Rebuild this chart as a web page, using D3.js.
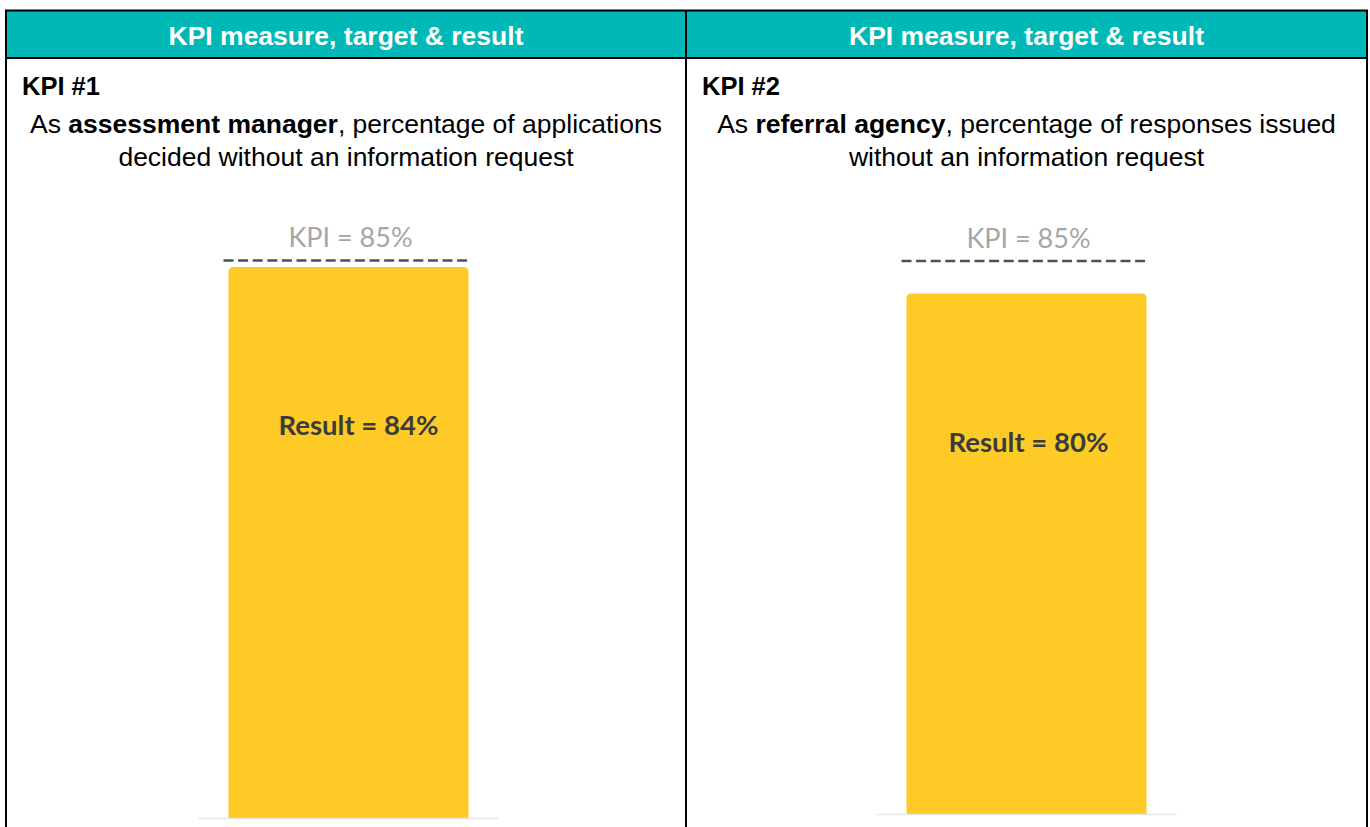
<!DOCTYPE html>
<html>
<head>
<meta charset="utf-8">
<script src="https://cdn.jsdelivr.net/npm/d3@7"></script>
<style>
  body { margin: 0; background: #fff; }
  svg { display: block; }
</style>
</head>
<body>
<div id="chart"></div>
<script>
// data
const headers = ["KPI measure, target & result", "KPI measure, target & result"]
const kpiNames = ["KPI #1", "KPI #2"]
const roles = ["assessment manager", "referral agency"]
const line1Rest = [", percentage of applications", ", percentage of responses issued"]
const line2 = ["decided without an information request", "without an information request"]
const kpiTargets = [85, 85]
const results = [84, 80]

const width = 1370
const height = 827

const svg = d3.select("div#chart").append("svg")
    .attr("width", width)
    .attr("height", height)

// table geometry
const tLeft = 6, tRight = 1367, tMid = 686, tTop = 10.5, headBottom = 58
const cols = [[tLeft, tMid], [tMid, tRight]]

// header
svg.append("rect")
    .attr("x", tLeft).attr("y", tTop)
    .attr("width", tRight - tLeft).attr("height", headBottom - tTop)
    .attr("fill", "#00B8B5")

const lines = svg.append("g").attr("stroke", "#000").attr("stroke-width", 2)
lines.append("line").attr("x1", tLeft - 1).attr("x2", tRight + 1).attr("y1", tTop).attr("y2", tTop)
lines.append("line").attr("x1", tLeft).attr("x2", tRight).attr("y1", headBottom).attr("y2", headBottom)
lines.append("line").attr("x1", tLeft).attr("x2", tLeft).attr("y1", tTop).attr("y2", height + 5)
lines.append("line").attr("x1", tMid).attr("x2", tMid).attr("y1", tTop).attr("y2", height + 5)
lines.append("line").attr("x1", tRight).attr("x2", tRight).attr("y1", tTop).attr("y2", height + 5)

// per-panel layout (the two charts were pasted at slightly different sizes)
const yRanges = [[818, 162], [814, 163.5]]
const chartShift = [2.5, 0]
const resultShift = [10, 2]

cols.forEach((c, i) => {
    const cx = (c[0] + c[1]) / 2
    const g = svg.append("g")

    g.append("text")
        .attr("x", cx).attr("y", 45)
        .attr("text-anchor", "middle")
        .attr("font-family", "Liberation Sans, Arial, sans-serif")
        .attr("font-weight", "bold")
        .attr("font-size", 26.5)
        .attr("fill", "#fff")
        .text(headers[i])

    g.append("text")
        .attr("x", c[0] + 16).attr("y", 95)
        .attr("font-family", "Liberation Sans, Arial, sans-serif")
        .attr("font-weight", "bold")
        .attr("font-size", 25.5)
        .attr("fill", "#000")
        .text(kpiNames[i])

    const t1 = g.append("text")
        .attr("x", cx).attr("y", 133)
        .attr("text-anchor", "middle")
        .attr("font-family", "Liberation Sans, Arial, sans-serif")
        .attr("font-size", 26.5)
        .attr("fill", "#000")
    t1.append("tspan").text("As ")
    t1.append("tspan").attr("font-weight", "bold").text(roles[i])
    t1.append("tspan").text(line1Rest[i])

    g.append("text")
        .attr("x", cx).attr("y", 166)
        .attr("text-anchor", "middle")
        .attr("font-family", "Liberation Sans, Arial, sans-serif")
        .attr("font-size", 26.5)
        .attr("fill", "#000")
        .text(line2[i])

    // chart
    const ccx = cx + chartShift[i]
    const x = d3.scaleBand()
        .domain([kpiNames[i]])
        .range([ccx - 150, ccx + 150])
        .paddingInner(0.2)
        .paddingOuter(0.1)
    const y = d3.scaleLinear().domain([0, 100]).range(yRanges[i])

    const bx = x(kpiNames[i]), bw = x.bandwidth()
    const yTop = y(results[i]), yBase = y(0)
    const r = 5

    // bar with rounded top corners
    g.append("path")
        .attr("fill", "#FDCA26")
        .attr("d", `M${bx},${yBase} V${yTop + r} Q${bx},${yTop} ${bx + r},${yTop} H${bx + bw - r} Q${bx + bw},${yTop} ${bx + bw},${yTop + r} V${yBase} Z`)

    // baseline
    g.append("line")
        .attr("x1", x.range()[0]).attr("x2", x.range()[1])
        .attr("y1", yBase + 0.5).attr("y2", yBase + 0.5)
        .attr("stroke", "#e6e6e6").attr("stroke-width", 1.5)

    // target line
    const yK = y(kpiTargets[i])
    g.append("line")
        .attr("x1", bx - 5).attr("x2", bx + bw + 3)
        .attr("y1", yK).attr("y2", yK)
        .attr("stroke", "#4B505B")
        .attr("stroke-width", 2.5)
        .attr("stroke-dasharray", "10,4.6")

    g.append("text")
        .attr("x", bx + bw / 2 + 2).attr("y", yK - 13)
        .attr("text-anchor", "middle")
        .attr("font-family", "Lato, sans-serif")
        .attr("font-size", 27)
        .attr("fill", "#A6A6A6")
        .text("KPI = " + kpiTargets[i] + "%")

    g.append("text")
        .attr("x", bx + bw / 2 + resultShift[i]).attr("y", yTop + (yBase - yTop) * 0.287 + 9.5)
        .attr("text-anchor", "middle")
        .attr("font-family", "Lato, sans-serif")
        .attr("font-weight", "bold")
        .attr("font-size", 27.5)
        .attr("fill", "#3B3B3B")
        .text("Result = " + results[i] + "%")
})
</script>
</body>
</html>
